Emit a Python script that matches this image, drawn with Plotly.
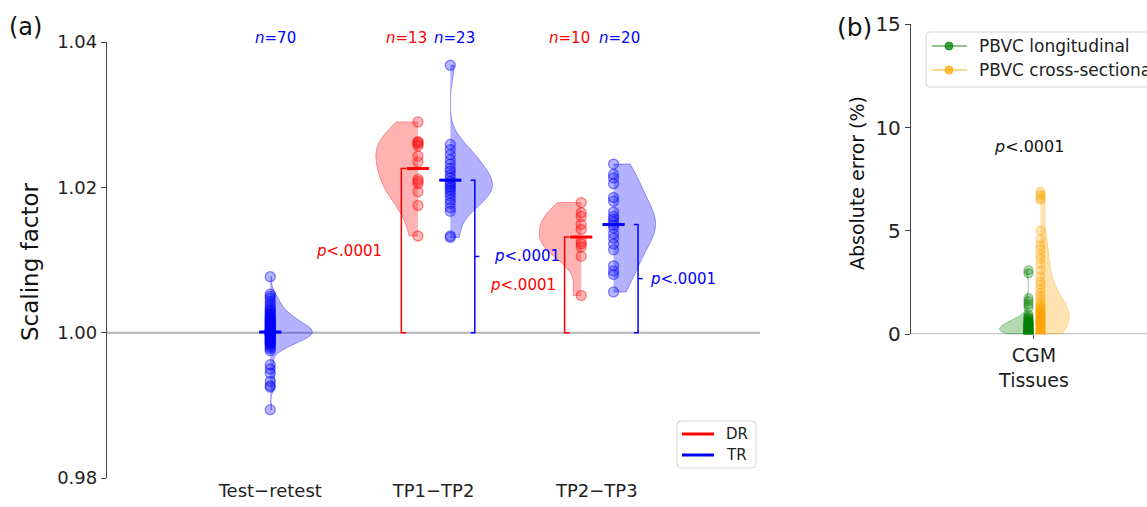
import plotly.graph_objects as go
import numpy as np

W, H = 1147, 507

# ---------------- data: panel (a) ----------------
categories_a = ["Test−retest", "TP1−TP2", "TP2−TP3"]
test_retest_tr = [1.0077, 1.0053, 1.0050, 1.0047, 1.0043, 1.0039, 1.0036, 1.0033, 1.0031, 1.0029,
                  1.0027, 1.0025, 1.0024, 1.0022, 1.0021, 1.0019, 1.0018, 1.0017, 1.0016, 1.0015,
                  1.0014, 1.0013, 1.0012, 1.0011, 1.0010, 1.0009, 1.0008, 1.0007, 1.0006, 1.0005,
                  1.0005, 1.0004, 1.0003, 1.0003, 1.0002, 1.0002, 1.0001, 1.0001, 1.0000, 1.0000,
                  0.9999, 0.9999, 0.9998, 0.9998, 0.9997, 0.9997, 0.9996, 0.9995, 0.9994, 0.9993,
                  0.9992, 0.9991, 0.9990, 0.9989, 0.9988, 0.9987, 0.9986, 0.9985, 0.9984, 0.9982,
                  0.9980, 0.9978, 0.9975, 0.9956, 0.9950, 0.9944, 0.9933, 0.9927, 0.9925, 0.9894]
tp1_tp2_dr = [1.0290, 1.0263, 1.0262, 1.0260, 1.0257, 1.0243, 1.0235, 1.0211, 1.0208, 1.0205,
              1.0194, 1.0175, 1.0133]
tp1_tp2_tr = [1.0368, 1.0259, 1.0252, 1.0245, 1.0238, 1.0232, 1.0226, 1.0222, 1.0217, 1.0213,
              1.0208, 1.0205, 1.0202, 1.0199, 1.0196, 1.0192, 1.0188, 1.0183, 1.0178, 1.0172,
              1.0167, 1.0133, 1.0131]
tp2_tp3_dr = [1.0179, 1.0165, 1.0160, 1.0149, 1.0142, 1.0125, 1.0122, 1.0118, 1.0105, 1.0051]
tp2_tp3_tr = [1.0232, 1.0218, 1.0213, 1.0205, 1.0186, 1.0181, 1.0166, 1.0160, 1.0156, 1.0152,
              1.0148, 1.0144, 1.0136, 1.0130, 1.0122, 1.0114, 1.0092, 1.0085, 1.0080, 1.0056]
yticks_a = [0.98, 1.00, 1.02, 1.04]

# ---------------- data: panel (b) ----------------
categories_b = ["CGM<br>Tissues"]
pbvc_longitudinal = [3.10, 2.95, 1.75, 1.60, 1.45, 1.30, 0.95, 0.85, 0.80, 0.75, 0.70, 0.65,
                     0.60, 0.58, 0.55, 0.52, 0.50, 0.48, 0.45, 0.42, 0.40, 0.38, 0.35, 0.33,
                     0.30, 0.28, 0.26, 0.24, 0.22, 0.20, 0.18, 0.16, 0.14, 0.12, 0.10, 0.08,
                     0.06, 0.05, 0.04, 0.03, 0.02, 0.01]
pbvc_cross_sectional = [6.90, 6.75, 6.60, 6.50, 5.00, 4.60, 4.30, 4.10, 3.85, 3.65, 3.40, 3.10,
                        2.80, 2.55, 2.40, 2.20, 2.00, 1.85, 1.70, 1.55, 1.45, 1.35, 1.28, 1.20,
                        1.15, 1.10, 1.05, 1.00, 0.95, 0.90, 0.85, 0.80, 0.75, 0.70, 0.65, 0.60,
                        0.55, 0.50, 0.45, 0.40, 0.35, 0.30, 0.25, 0.20, 0.15, 0.10, 0.05, 0.02]
yticks_b = [0, 5, 10, 15]

FONT = "DejaVu Sans"
PX_PER_UNIT_A = 163.25


def px(x):
    return x / W


def py(y):
    return 1 - y / H


def rgba(rgb, a):
    return "rgba(%d,%d,%d,%.2f)" % (rgb[0], rgb[1], rgb[2], a)


RED = (255, 0, 0)
BLUE = (0, 0, 255)
GREEN = (0, 128, 0)
ORANGE = (255, 165, 0)

fig = go.Figure()


def ann(x, y, text, size, color="#111", xanchor="center", yanchor="middle", xref="paper",
        yref="paper", **kw):
    d = dict(x=x, y=y, xref=xref, yref=yref, text=text, showarrow=False, xanchor=xanchor,
             yanchor=yanchor, font=dict(family=FONT, size=size, color=color))
    d.update(kw)
    return d


# series for panel (a): (category index, offset, side, data, colour)
series_a = [
    (0, 0.0, "positive", test_retest_tr, BLUE),
    (1, -0.095, "negative", tp1_tp2_dr, RED),
    (1, 0.103, "positive", tp1_tp2_tr, BLUE),
    (2, -0.095, "negative", tp2_tp3_dr, RED),
    (2, 0.103, "positive", tp2_tp3_tr, BLUE),
]
VW_A = 0.515

for ci, off, side, data, col in series_a:
    pos = ci + off
    fig.add_trace(go.Violin(
        y=data, x0=pos, side=side, width=VW_A, spanmode="hard", points=False,
        fillcolor=rgba(col, 0.3), line=dict(color=rgba(col, 0.35), width=1),
        box_visible=False, meanline_visible=False, showlegend=False,
        xaxis="x", yaxis="y", scalemode="width", hoverinfo="skip"))
    fig.add_trace(go.Scatter(
        x=[pos] * len(data), y=data, mode="markers", showlegend=False,
        marker=dict(size=10, color=rgba(col, 0.28), line=dict(color=rgba(col, 0.45), width=1.3)),
        xaxis="x", yaxis="y", hoverinfo="skip"))
    m = float(np.mean(data))
    fig.add_trace(go.Scatter(
        x=[pos - 0.068, pos + 0.068], y=[m, m], mode="lines", showlegend=False,
        line=dict(color=rgba(col, 1), width=3), xaxis="x", yaxis="y", hoverinfo="skip"))

# significance brackets (groups TP1-TP2 and TP2-TP3)
bracket_groups = [
    (1, tp1_tp2_dr, tp1_tp2_tr, 17, 17),
    (2, tp2_tp3_dr, tp2_tp3_tr, 7, 10),
]
annotations = []
for ci, dr, tr, gap_l, gap_r in bracket_groups:
    mdr = float(np.mean(dr))
    mtr = float(np.mean(tr))
    bx = ci - 0.095 - 0.102
    fig.add_trace(go.Scatter(x=[bx + 0.03, bx, bx, bx + 0.03], y=[mdr, mdr, 1.0, 1.0],
                             mode="lines", line=dict(color="red", width=1.5), showlegend=False,
                             xaxis="x", yaxis="y", hoverinfo="skip"))
    annotations.append(ann(bx - gap_l / PX_PER_UNIT_A, (mdr + 1.0) / 2, "<i>p</i>&lt;.0001", 15,
                           "red", xanchor="right", xref="x", yref="y"))
    bx2 = ci + 0.103 + 0.15
    fig.add_trace(go.Scatter(x=[bx2 - 0.025, bx2, bx2, bx2 - 0.025], y=[mtr, mtr, 1.0, 1.0],
                             mode="lines", line=dict(color="blue", width=1.5), showlegend=False,
                             xaxis="x", yaxis="y", hoverinfo="skip"))
    midb = (mtr + 1.0) / 2
    fig.add_trace(go.Scatter(x=[bx2, bx2 + 0.028], y=[midb, midb], mode="lines",
                             line=dict(color="blue", width=1.5), showlegend=False,
                             xaxis="x", yaxis="y", hoverinfo="skip"))
    annotations.append(ann(bx2 + gap_r / PX_PER_UNIT_A, midb, "<i>p</i>&lt;.0001", 15,
                           "blue", xanchor="left", xref="x", yref="y"))

# n labels
n_labels = [(0.03, test_retest_tr, "blue"), (0.832, tp1_tp2_dr, "red"), (1.126, tp1_tp2_tr, "blue"),
            (1.83, tp2_tp3_dr, "red"), (2.142, tp2_tp3_tr, "blue")]
for xx, d, c in n_labels:
    annotations.append(ann(xx, py(38), "<i>n</i>=%d" % len(d), 15, c, xref="x"))

# ---------------- panel (b) ----------------
series_b = [
    (-0.045, "negative", pbvc_longitudinal, GREEN),
    (0.053, "positive", pbvc_cross_sectional, ORANGE),
]
for off, side, data, col in series_b:
    fig.add_trace(go.Violin(
        y=data, x0=off, side=side, width=0.47, spanmode="hard", points=False,
        fillcolor=rgba(col, 0.3), line=dict(color=rgba(col, 0.35), width=1),
        box_visible=False, meanline_visible=False, showlegend=False,
        xaxis="x2", yaxis="y2", scalemode="width", hoverinfo="skip"))
    fig.add_trace(go.Scatter(
        x=[off] * len(data), y=data, mode="markers", showlegend=False,
        marker=dict(size=9, color=rgba(col, 0.28), line=dict(color=rgba(col, 0.4), width=1.2)),
        xaxis="x2", yaxis="y2", hoverinfo="skip"))

shapes = []
# reference lines
shapes.append(dict(type="line", xref="x domain", yref="y", x0=0, x1=1, y0=1.0, y1=1.0,
                   line=dict(color="#b5b5b5", width=2), layer="below"))
shapes.append(dict(type="line", xref="x2 domain", yref="y2", x0=0, x1=1, y0=0, y1=0,
                   line=dict(color="#b5b5b5", width=2), layer="below"))


def rounded_box(x0, y0, x1, y1, r=4):
    rx, ry = r / W, r / H
    X0, X1 = px(x0), px(x1)
    Y0, Y1 = py(y0), py(y1)  # Y0 top, Y1 bottom
    path = (f"M {X0+rx},{Y0} L {X1-rx},{Y0} Q {X1},{Y0} {X1},{Y0-ry} "
            f"L {X1},{Y1+ry} Q {X1},{Y1} {X1-rx},{Y1} L {X0+rx},{Y1} "
            f"Q {X0},{Y1} {X0},{Y1+ry} L {X0},{Y0-ry} Q {X0},{Y0} {X0+rx},{Y0} Z")
    return dict(type="path", xref="paper", yref="paper", path=path,
                line=dict(color="#d6d6d6", width=1), fillcolor="rgba(255,255,255,0.85)")


# legend (a)
shapes.append(rounded_box(677, 421, 756, 468))
for yy, c, t in [(434, "red", "DR"), (455, "blue", "TR")]:
    shapes.append(dict(type="line", xref="paper", yref="paper", x0=px(682), x1=px(714),
                       y0=py(yy), y1=py(yy), line=dict(color=c, width=3)))
    annotations.append(ann(px(724), py(yy), t, 15, "#222", xanchor="left"))

# legend (b)
shapes.append(rounded_box(926, 32, 1200, 87))
for yy, col, t in [(46, GREEN, "PBVC longitudinal"), (70, ORANGE, "PBVC cross-sectional")]:
    shapes.append(dict(type="line", xref="paper", yref="paper", x0=px(932), x1=px(967),
                       y0=py(yy), y1=py(yy), line=dict(color=rgba(col, 0.6), width=1.5)))
    shapes.append(dict(type="circle", xref="paper", yref="paper", x0=px(945), x1=px(953),
                       y0=py(yy - 4), y1=py(yy + 4), line=dict(color=rgba(col, 0.7), width=1),
                       fillcolor=rgba(col, 0.75)))
    annotations.append(ann(px(977), py(yy), t, 17, "#222", xanchor="left"))

# panel labels and titles
annotations += [
    ann(px(25), py(27), "(a)", 24),
    ann(px(30), py(262), "Scaling factor", 23, textangle=-90),
    ann(px(855), py(28), "(b)", 25),
    ann(px(857), py(183), "Absolute error (%)", 19, textangle=-90),
    ann(px(1029), py(147), "<i>p</i>&lt;.0001", 16),
]

fig.update_layout(
    width=W, height=H, margin=dict(l=0, r=0, t=0, b=0, autoexpand=False),
    paper_bgcolor="white", plot_bgcolor="white",
    violinmode="overlay", violingap=0, violingroupgap=0,
    showlegend=False,
    font=dict(family=FONT, color="#222"),
    xaxis=dict(domain=[px(107), px(760)], range=[-1, 3], type="linear", automargin=False,
               tickvals=[0, 1, 2], ticktext=categories_a, showline=False, ticks="",
               showgrid=False, zeroline=False, tickfont=dict(size=18, family=FONT, color="#222")),
    yaxis=dict(domain=[py(478), py(42)], range=[0.98, 1.04], tickvals=yticks_a, automargin=False,
               ticktext=["%.2f" % v for v in yticks_a], showline=True, linecolor="#444",
               linewidth=1.3, ticks="outside", ticklen=5, tickcolor="#444", showgrid=False,
               zeroline=False, tickfont=dict(size=18, family=FONT, color="#222")),
    xaxis2=dict(domain=[px(911), 1.0], range=[-1, 0.919], type="linear", anchor="y2",
                automargin=False,
                tickvals=[0], ticktext=categories_b, showline=False, ticks="outside",
                ticklen=4, tickcolor="#444", showgrid=False, zeroline=False,
                tickfont=dict(size=19, family=FONT, color="#222")),
    yaxis2=dict(domain=[py(334.3), py(24.3)], range=[0, 15], anchor="x2", tickvals=yticks_b,
                automargin=False,
                showline=True, linecolor="#444", linewidth=1.3, ticks="outside", ticklen=5,
                tickcolor="#444", showgrid=False, zeroline=False,
                tickfont=dict(size=20, family=FONT, color="#222")),
    shapes=shapes, annotations=annotations,
)

fig.write_html("out.html", config={"displayModeBar": False},
               post_script="document.body.style.margin='0';document.body.style.overflow='hidden';")
